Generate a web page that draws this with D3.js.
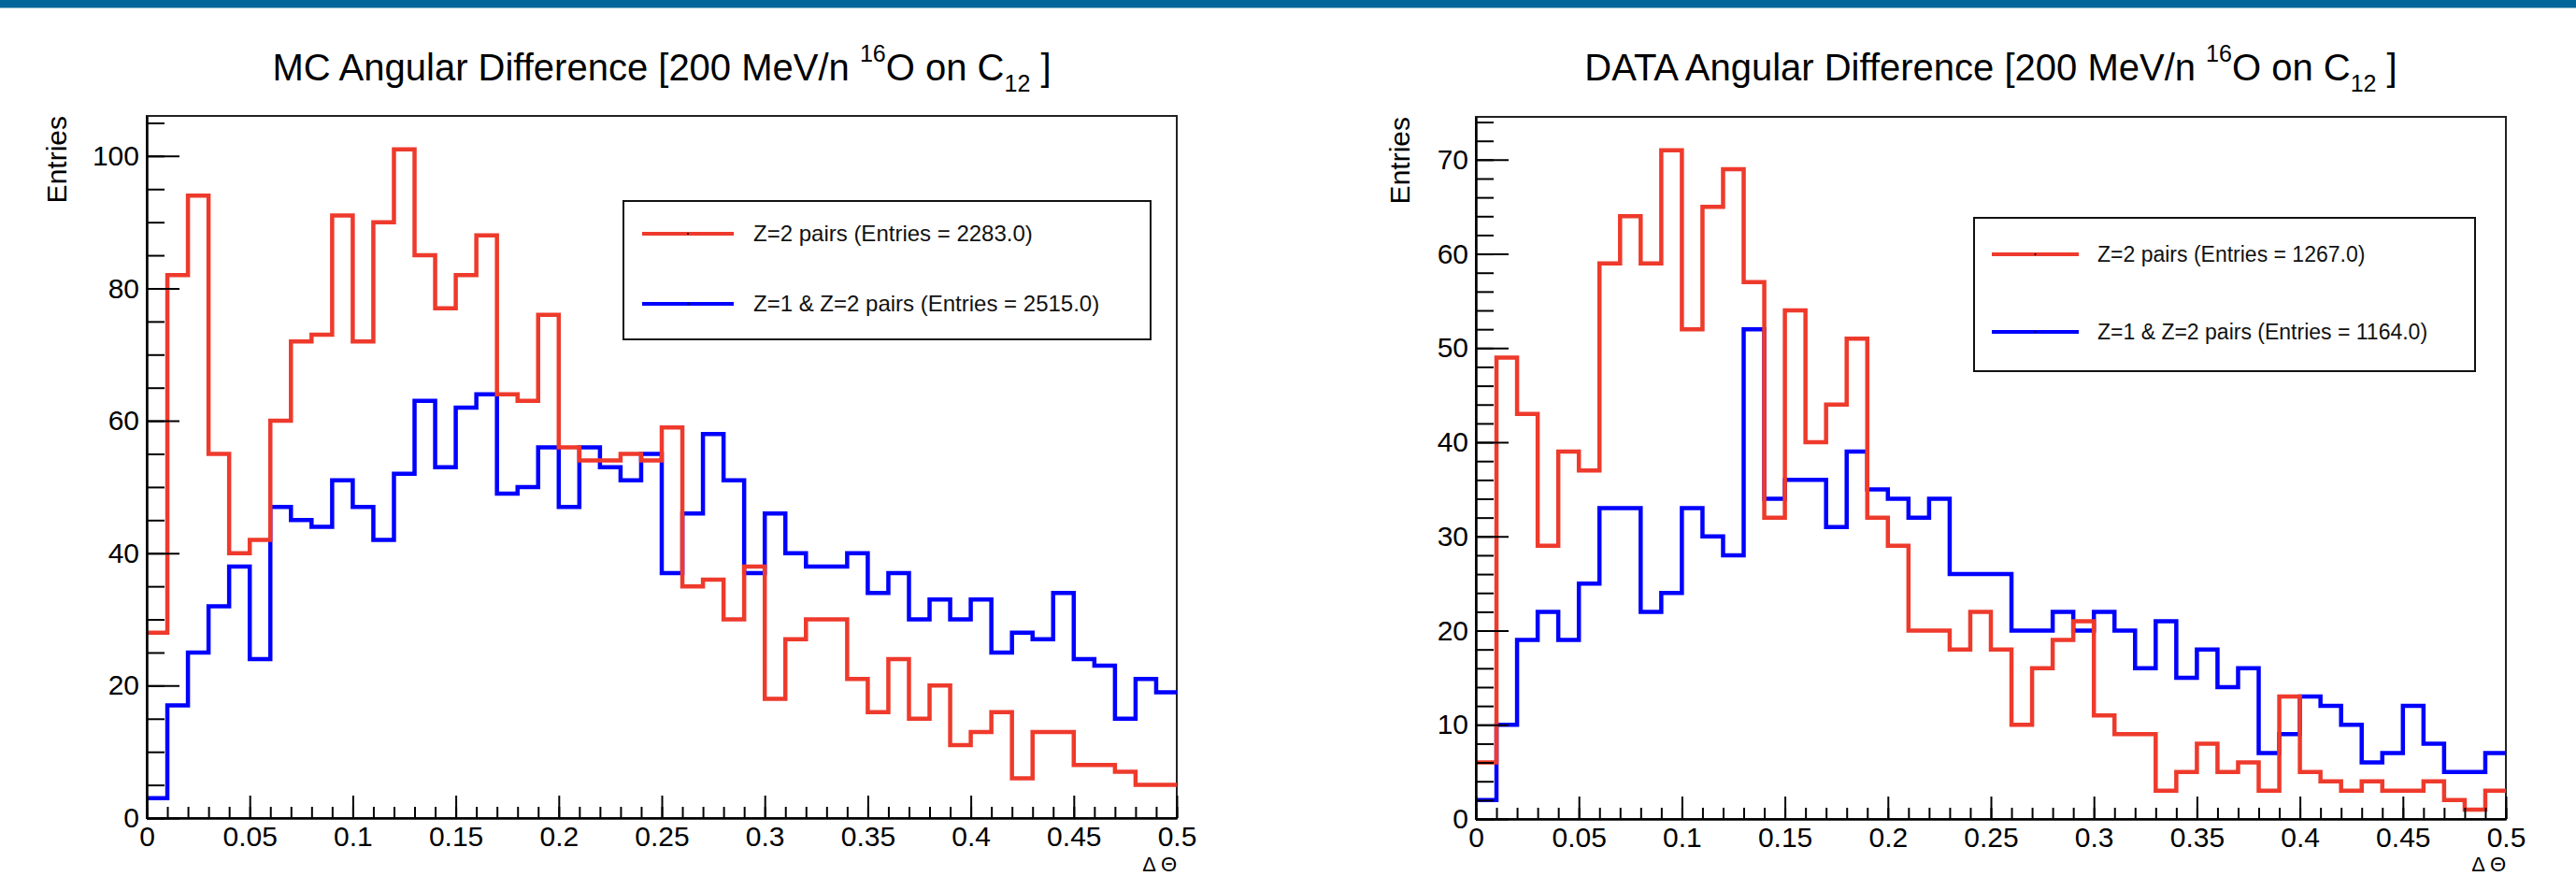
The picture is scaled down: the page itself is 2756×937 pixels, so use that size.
<!DOCTYPE html>
<html>
<head>
<meta charset="utf-8">
<script src="https://cdn.jsdelivr.net/npm/d3@7"></script>
<style>
  body { margin: 0; background: #fff; }
  svg { display: block; font-family: "Liberation Sans", Arial, Helvetica, sans-serif; }
  text { white-space: pre; }
</style>
</head>
<body>
<svg id="chart"></svg>
<script>
const width = 2756
const height = 937

// bin contents, 50 bins of 0.01 from 0 to 0.5
const binStart = 0
const binWidth = 0.01

const mcZ2 = [28,82,94,55,40,42,60,72,73,91, 72,90,101,85,77,82,88,64,63,76,
              56,54,54,55,54,59,35,36,30,38, 18,27,30,30,21,16,24,15,20,11,
              13,16,6,13,13,8,8,7,5,5]
const mcZ12 = [3,17,25,32,38,24,47,45,44,51, 47,42,52,63,53,62,64,49,50,56,
               47,56,53,51,55,37,46,58,51,37, 46,40,38,38,40,34,37,30,33,30,
               33,25,28,27,34,24,23,15,21,19]
const dataZ2 = [6,49,43,29,39,37,59,64,59,71, 52,65,69,57,32,54,40,44,51,32,
                29,20,20,18,22,18,10,16,19,21, 11,9,9,3,5,8,5,6,3,13,
                5,4,3,4,3,3,4,2,1,3]
const dataZ12 = [2,10,19,22,19,25,33,33,22,24, 33,30,28,52,34,36,36,31,39,35,
                 34,32,34,26,26,26,20,20,22,20, 22,20,16,21,15,18,14,16,7,9,
                 13,12,10,6,7,12,8,5,5,7]

const mcEntries = [2283.0, 2515.0]
const dataEntries = [1267.0, 1164.0]
const seriesNames = ["Z=2 pairs", "Z=1 & Z=2 pairs"]
const titlePrefixes = ["MC", "DATA"]
const xTickLabels = [0, 0.05, 0.1, 0.15, 0.2, 0.25, 0.3, 0.35, 0.4, 0.45, 0.5]

const red = "#ee3a2c"
const blue = "#0000ff"

var svg = d3.select("#chart")
    .attr("width", width)
    .attr("height", height)

// header band
svg.append("rect")
    .attr("x", 0).attr("y", 0)
    .attr("width", width).attr("height", 8)
    .attr("fill", "#03669a")
svg.append("rect")
    .attr("x", 0).attr("y", 8)
    .attr("width", width).attr("height", 1)
    .attr("fill", "#8dbad3")

// pad layouts (pixels)
const pads = [
  { x0: 157, x1: 1259, yTop: 124, yBot: 875, yMajor: 20, yMinor: 5,
    yTitleX: 71, legend: { x: 667, y: 215, w: 564, h: 148, r1: 250, r2: 325, fs: 24, lx0: 687, lx1: 785, tx: 806 } },
  { x0: 1579, x1: 2681, yTop: 125, yBot: 876, yMajor: 10, yMinor: 2,
    yTitleX: 1508, legend: { x: 2112, y: 233, w: 536, h: 164, r1: 272, r2: 355, fs: 23, lx0: 2131, lx1: 2224, tx: 2244 } }
]

drawPad(pads[0], titlePrefixes[0], mcZ2, mcZ12, mcEntries)
drawPad(pads[1], titlePrefixes[1], dataZ2, dataZ12, dataEntries)

function drawPad(p, prefix, z2, z12, entries) {
    var g = svg.append("g")

    var yMax = 1.05 * d3.max(z2.concat(z12))

    var x = d3.scaleLinear()
        .domain([binStart, binStart + binWidth * z2.length])
        .range([p.x0, p.x1])
    var y = d3.scaleLinear()
        .domain([0, yMax])
        .range([p.yBot, p.yTop])

    // frame
    g.append("rect")
        .attr("x", p.x0).attr("y", p.yTop)
        .attr("width", p.x1 - p.x0).attr("height", p.yBot - p.yTop)
        .attr("fill", "none")
        .attr("stroke", "#222")
        .attr("stroke-width", 2)

    // histograms (step lines)
    var step = d3.line()
        .x(d => x(d[0]))
        .y(d => y(d[1]))
        .curve(d3.curveStepAfter)

    function points(vals) {
        var pts = vals.map((v, i) => [binStart + i * binWidth, v])
        pts.push([binStart + vals.length * binWidth, vals[vals.length - 1]])
        return pts
    }

    g.append("path")
        .attr("d", step(points(z12)))
        .attr("fill", "none")
        .attr("stroke", blue)
        .attr("stroke-width", 4.5)
    g.append("path")
        .attr("d", step(points(z2)))
        .attr("fill", "none")
        .attr("stroke", red)
        .attr("stroke-width", 4.5)

    // x axis, ticks pointing into the frame
    var xMinor = d3.range(0, z2.length + 1).map(i => binStart + i * binWidth)
    g.append("g")
        .attr("transform", "translate(0," + p.yBot + ")")
        .call(d3.axisBottom(x).tickValues(xMinor).tickSize(-12).tickSizeOuter(0).tickFormat(""))
    var xAxis = g.append("g")
        .attr("transform", "translate(0," + p.yBot + ")")
        .call(d3.axisBottom(x).tickValues(xTickLabels).tickSize(-24).tickSizeOuter(0)
            .tickPadding(9).tickFormat(d3.format("~g")))
    xAxis.selectAll("text")
        .attr("font-size", 30)
        .attr("font-family", "Liberation Sans, Arial, sans-serif")
        .attr("fill", "#000")

    // y axis
    var yMinorVals = d3.range(0, yMax, p.yMinor)
    var yMajorVals = d3.range(0, yMax, p.yMajor)
    g.append("g")
        .attr("transform", "translate(" + p.x0 + ",0)")
        .call(d3.axisLeft(y).tickValues(yMinorVals).tickSize(-19).tickSizeOuter(0).tickFormat(""))
    var yAxis = g.append("g")
        .attr("transform", "translate(" + p.x0 + ",0)")
        .call(d3.axisLeft(y).tickValues(yMajorVals).tickSize(-35).tickSizeOuter(0).tickPadding(8))
    yAxis.selectAll("text")
        .attr("font-size", 30)
        .attr("font-family", "Liberation Sans, Arial, sans-serif")
        .attr("fill", "#000")

    g.selectAll(".domain, .tick line")
        .attr("stroke", "#000")
        .attr("stroke-width", 2)

    // axis titles
    g.append("text")
        .attr("transform", "translate(" + p.yTitleX + "," + p.yTop + ") rotate(-90)")
        .attr("text-anchor", "end")
        .attr("font-size", 30)
        .text("Entries")
    g.append("text")
        .attr("x", p.x1)
        .attr("y", 932)
        .attr("text-anchor", "end")
        .attr("font-size", 22)
        .text("\u0394 \u0398")

    // title with super/subscripts
    var title = g.append("text")
        .attr("x", (p.x0 + p.x1) / 2)
        .attr("y", 86)
        .attr("text-anchor", "middle")
        .attr("font-size", 40)
    title.append("tspan").text(prefix + " Angular Difference [200 MeV/n ")
    title.append("tspan").attr("dy", -20).attr("font-size", 25).text("16")
    title.append("tspan").attr("dy", 20).text("O on C")
    title.append("tspan").attr("dy", 12).attr("font-size", 25).text("12")
    title.append("tspan").attr("dy", -12).text(" ]")

    // legend
    var L = p.legend
    g.append("rect")
        .attr("x", L.x).attr("y", L.y)
        .attr("width", L.w).attr("height", L.h)
        .attr("fill", "#fff")
        .attr("stroke", "#111")
        .attr("stroke-width", 2)

    var rows = [
        { name: seriesNames[0], n: entries[0], color: red, ry: L.r1 },
        { name: seriesNames[1], n: entries[1], color: blue, ry: L.r2 }
    ]
    var row = g.selectAll(".legrow")
        .data(rows)
        .enter().append("g")
        .attr("class", "legrow")
    row.append("line")
        .attr("x1", L.lx0).attr("x2", L.lx1)
        .attr("y1", d => d.ry).attr("y2", d => d.ry)
        .attr("stroke", d => d.color)
        .attr("stroke-width", 4)
    row.append("circle")
        .attr("cx", (L.lx0 + L.lx1) / 2)
        .attr("cy", d => d.ry)
        .attr("r", 1)
        .attr("fill", "#000")
    row.append("text")
        .attr("x", L.tx)
        .attr("y", d => d.ry + L.fs * 0.35)
        .attr("font-size", L.fs)
        .attr("fill", "#111")
        .text(d => d.name + " (Entries = " + d.n.toFixed(1) + ")")
}
</script>
</body>
</html>
